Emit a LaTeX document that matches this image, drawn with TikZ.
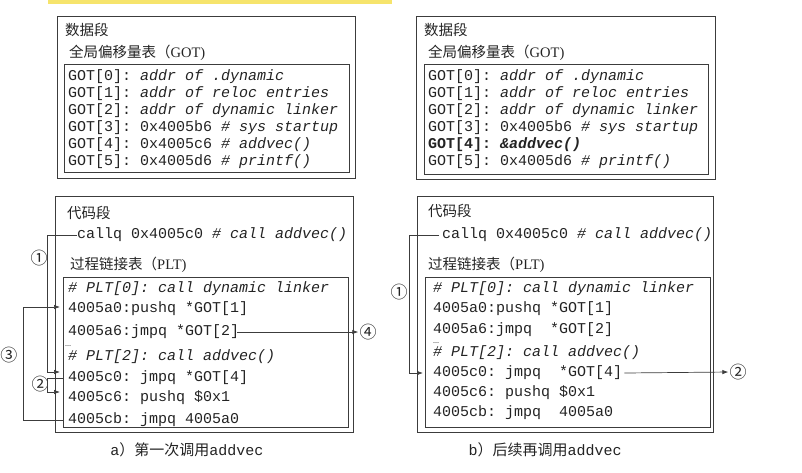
\documentclass[tikz,border=0pt]{standalone}
\usepackage{fontspec}
\setmainfont{Liberation Serif}
\setmonofont{Liberation Mono}
\newfontfamily\cjk{Noto Sans CJK SC}
\usetikzlibrary{arrows.meta}
\definecolor{hl}{RGB}{246,228,108}
\definecolor{ink}{RGB}{35,35,35}
\definecolor{frame}{RGB}{60,60,60}
\begin{document}
\begin{tikzpicture}[x=1pt,y=-1pt,
  box/.style={draw=frame, line width=0.9pt, inner sep=0pt, anchor=north west},
  code/.style={font=\fontsize{15}{15}\selectfont\ttfamily\frenchspacing, text=ink, anchor=west, inner sep=0pt, text height=10pt, text depth=3pt},
  title/.style={font=\fontsize{14.5}{15}\selectfont, text=ink, anchor=west, inner sep=0pt},
  num/.style={font=\cjk\fontsize{17}{17}\selectfont, text=ink, inner sep=0pt},
  captxt/.style={font=\fontsize{15}{15}\selectfont, text=ink, inner sep=0pt},
  ellip/.style={font=\fontsize{6}{6}\selectfont\bfseries, text=ink, inner sep=0pt, anchor=base west},
  arr/.style={draw=frame, line width=0.7pt, -{Latex[length=6pt,width=4.5pt]}}
]
\useasboundingbox (0,0) rectangle (802,472);
\fill[hl] (48,0) rectangle (392,3.5);

% ---------------- left panel ----------------
\node[box, minimum width=298pt, minimum height=162pt] (dataA) at (57,16) {};
\node[box, minimum width=285pt, minimum height=108pt] (gotA) at (64,64) {};
\node[title] (tdA) at (65,30) {\cjk 数据段};
\node[title] (tgA) at (69,53) {{\cjk 全局偏移量表（}GOT)};
\node[code] (gA0) at (68,76.5) {GOT[0]: \textit{addr of .dynamic}};
\node[code] (gA1) at (68,93.5) {GOT[1]: \textit{addr of reloc entries}};
\node[code] (gA2) at (68,110.5) {GOT[2]: \textit{addr of dynamic linker}};
\node[code] (gA3) at (68,127.5) {GOT[3]: 0x4005b6 \textit{\# sys startup}};
\node[code] (gA4) at (68,144.5) {GOT[4]: 0x4005c6 \textit{\# addvec()}};
\node[code] (gA5) at (68,161.5) {GOT[5]: 0x4005d6 \textit{\# printf()}};

\node[box, minimum width=298pt, minimum height=236pt] (codeA) at (55,196) {};
\node[box, minimum width=285pt, minimum height=150pt] (pltA) at (63,277) {};
\node[title] (tcA) at (67,213) {\cjk 代码段};
\node[code] (callqA) at (77,235) {callq 0x4005c0 \textit{\# call addvec()}};
\node[title] (tpA) at (70,265) {{\cjk 过程链接表（}PLT)};
\node[code] (pA0) at (68,289) {\textit{\# PLT[0]: call dynamic linker}};
\node[code] (a0A) at (68,309) {4005a0:pushq *GOT[1]};
\node[code] (a6A) at (68,332) {4005a6:jmpq *GOT[2]};
\node[ellip] (dotsA) at (65,346.5) {…};
\node[code] (pA2) at (68,357) {\textit{\# PLT[2]: call addvec()}};
\node[code] (c0A) at (68,378) {4005c0: jmpq *GOT[4]};
\node[code] (c6A) at (68,398) {4005c6: pushq \$0x1};
\node[code] (cbA) at (68,420) {4005cb: jmpq 4005a0};

\node[num] (n1A) at (39,258) {①};
\node[num] (n2A) at (40,384) {②};
\node[num] (n3A) at (9,355) {③};
\node[num] (n4A) at (368,332) {④};

\draw[arr] (callqA.west) -- ++(-30,0) |- ([xshift=-8pt,yshift=6pt]c0A.west);
\draw[arr] (pltA.west |- c0A.west) -- ++(-16,0) |- ([xshift=-8pt,yshift=6pt]c6A.west);
\draw[arr] (pltA.west |- cbA.west) -- ++(-40,0) |- ([xshift=-8pt,yshift=2pt]a0A.west);
\draw[arr, shorten >=1pt] ([xshift=-2pt]a6A.east) -- (n4A.west);

\node[captxt] (capA) at (187,450) {{\ttfamily a}{\cjk ）第一次调用}{\ttfamily addvec}};

% ---------------- right panel ----------------
\node[box, minimum width=299pt, minimum height=163pt] (dataB) at (416,16) {};
\node[box, minimum width=284pt, minimum height=110pt] (gotB) at (424,64) {};
\node[title] (tdB) at (424,30) {\cjk 数据段};
\node[title] (tgB) at (428,53) {{\cjk 全局偏移量表（}GOT)};
\node[code] (gB0) at (428,76.5) {GOT[0]: \textit{addr of .dynamic}};
\node[code] (gB1) at (428,93.5) {GOT[1]: \textit{addr of reloc entries}};
\node[code] (gB2) at (428,110.5) {GOT[2]: \textit{addr of dynamic linker}};
\node[code] (gB3) at (428,127.5) {GOT[3]: 0x4005b6 \textit{\# sys startup}};
\node[code] (gB4) at (428,144.5) {\textbf{GOT[4]: \textit{\&addvec()}}};
\node[code] (gB5) at (428,161.5) {GOT[5]: 0x4005d6 \textit{\# printf()}};

\node[box, minimum width=296pt, minimum height=236pt] (codeB) at (417,196) {};
\node[box, minimum width=285pt, minimum height=150pt] (pltB) at (425,277) {};
\node[title] (tcB) at (428,211) {\cjk 代码段};
\node[code] (callqB) at (442,235) {callq 0x4005c0 \textit{\# call addvec()}};
\node[title] (tpB) at (428,265) {{\cjk 过程链接表（}PLT)};
\node[code] (pB0) at (433,289) {\textit{\# PLT[0]: call dynamic linker}};
\node[code] (a0B) at (433,309) {4005a0:pushq *GOT[1]};
\node[code] (a6B) at (433,330) {4005a6:jmpq~ *GOT[2]};
\node[ellip] (dotsB) at (433,343.5) {…};
\node[code] (pB2) at (433,353) {\textit{\# PLT[2]: call addvec()}};
\node[code] (c0B) at (433,373) {4005c0: jmpq~ *GOT[4]};
\node[code] (c6B) at (433,393) {4005c6: pushq \$0x1};
\node[code] (cbB) at (433,413) {4005cb: jmpq~ 4005a0};

\node[num] (n1B) at (399,292) {①};
\node[num] (n2B) at (738,372) {②};

\draw[arr, shorten <=3pt] (callqB.west) -- ++(-33,0) |- ([xshift=-10pt]c0B.west);
\draw[arr, shorten >=1pt] ([xshift=2pt]c0B.east) -- (n2B.west);

\node[captxt] (capB) at (545,450) {{\ttfamily b}{\cjk ）后续再调用}{\ttfamily addvec}};
\end{tikzpicture}
\end{document}
